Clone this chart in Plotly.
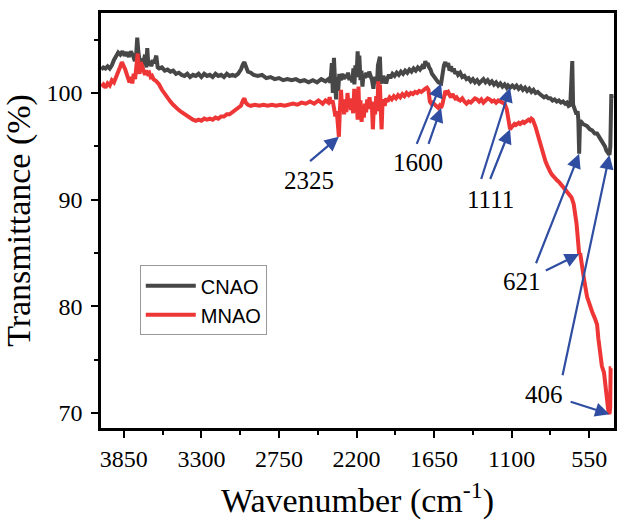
import plotly.graph_objects as go

# FTIR spectra: (wavenumber cm^-1, transmittance %)
CNAO_POINTS = [
    (4010, 102.2), (3995, 102.4), (3980, 102.3), (3965, 102.5), (3950, 102.3),
    (3935, 102.6), (3920, 103.1), (3905, 103.5), (3890, 103.8), (3875, 103.6),
    (3860, 103.9), (3845, 103.5), (3830, 103.8), (3815, 103.4), (3800, 103.9),
    (3785, 103.5), (3772, 103.0), (3762, 103.7), (3755, 105.2), (3748, 104.0),
    (3740, 102.6), (3730, 102.0), (3720, 103.0), (3710, 102.9), (3700, 103.6),
    (3690, 102.4), (3684, 104.2), (3676, 102.6), (3665, 103.0), (3655, 102.5),
    (3645, 103.1), (3635, 102.8), (3620, 103.5), (3610, 102.4), (3600, 102.3),
    (3580, 102.4), (3560, 102.1), (3540, 102.2), (3520, 102.0), (3500, 102.1),
    (3480, 101.8), (3460, 101.9), (3440, 101.7), (3420, 101.6), (3400, 101.8),
    (3380, 101.5), (3360, 101.7), (3340, 101.6), (3320, 101.8), (3300, 101.5),
    (3280, 101.8), (3260, 101.6), (3240, 101.7), (3220, 101.5), (3200, 101.8),
    (3180, 101.6), (3160, 101.7), (3140, 101.5), (3120, 101.8), (3100, 101.6),
    (3080, 101.7), (3060, 101.6), (3040, 101.8), (3020, 102.2), (3005, 102.7),
    (2995, 102.9), (2985, 102.5), (2970, 102.0), (2950, 101.9), (2930, 101.7),
    (2900, 101.6), (2870, 101.7), (2840, 101.4), (2810, 101.5), (2780, 101.3),
    (2750, 101.4), (2720, 101.2), (2690, 101.3), (2660, 101.2), (2630, 101.3),
    (2600, 101.1), (2570, 101.2), (2540, 101.0), (2510, 101.2), (2480, 101.0),
    (2450, 101.3), (2420, 101.1), (2400, 101.3), (2385, 101.0), (2375, 102.8),
    (2368, 100.0), (2360, 103.3), (2352, 101.0), (2345, 99.4), (2338, 101.5),
    (2330, 100.2), (2322, 101.8), (2312, 101.2), (2300, 101.8), (2290, 101.3),
    (2280, 101.7), (2270, 101.4), (2260, 101.9), (2250, 101.2), (2240, 101.6),
    (2230, 101.0), (2222, 102.3), (2215, 100.8), (2208, 102.6), (2200, 101.5),
    (2192, 103.9), (2186, 102.0), (2180, 103.5), (2172, 101.2), (2165, 102.1),
    (2158, 100.6), (2150, 101.8), (2140, 101.4), (2130, 101.9), (2120, 101.5),
    (2110, 102.0), (2100, 101.7), (2090, 101.2), (2080, 100.4), (2072, 101.5),
    (2065, 101.3), (2055, 100.9), (2048, 102.6), (2040, 102.9), (2034, 103.4),
    (2028, 101.2), (2020, 100.9), (2010, 101.6), (2000, 101.3), (1990, 100.9),
    (1980, 101.4), (1970, 101.7), (1960, 101.4), (1945, 101.8), (1930, 101.6),
    (1915, 101.9), (1900, 101.7), (1885, 102.0), (1870, 101.8), (1855, 102.1),
    (1840, 101.9), (1825, 102.2), (1810, 102.0), (1795, 102.3), (1780, 102.1),
    (1765, 102.4), (1750, 102.2), (1735, 102.5), (1722, 102.3), (1712, 103.0),
    (1705, 102.6), (1695, 102.8), (1685, 102.4), (1675, 102.2), (1665, 101.8),
    (1655, 101.6), (1645, 101.4), (1635, 101.3), (1620, 101.0), (1600, 100.9),
    (1590, 101.8), (1580, 102.6), (1570, 102.9), (1560, 102.5), (1550, 102.8),
    (1540, 102.1), (1530, 102.5), (1520, 102.0), (1510, 102.3), (1500, 101.8),
    (1490, 102.0), (1480, 101.7), (1465, 101.9), (1450, 101.5), (1435, 101.6),
    (1420, 101.3), (1405, 101.4), (1390, 101.1), (1375, 101.3), (1360, 101.0),
    (1345, 101.2), (1330, 100.9), (1315, 101.1), (1300, 101.3), (1285, 101.0),
    (1270, 101.2), (1255, 100.9), (1240, 101.1), (1225, 100.8), (1210, 101.0),
    (1195, 100.7), (1180, 100.9), (1165, 100.6), (1150, 100.8), (1135, 100.5),
    (1125, 100.7), (1111, 100.5), (1095, 100.7), (1080, 100.5), (1065, 100.7),
    (1050, 100.4), (1035, 100.6), (1020, 100.3), (1005, 100.5), (990, 100.2),
    (975, 100.4), (960, 100.1), (945, 100.3), (930, 100.0), (915, 100.1),
    (900, 99.9), (885, 99.8), (870, 99.6), (855, 99.7), (840, 99.5),
    (825, 99.5), (810, 99.3), (795, 99.4), (780, 99.2), (765, 99.3),
    (750, 99.1), (735, 99.2), (720, 99.0), (708, 99.1), (696, 98.8),
    (684, 98.9), (676, 102.9), (670, 103.0), (664, 98.9), (656, 98.5),
    (648, 98.3), (640, 98.0), (632, 98.3), (627, 97.5), (621, 94.3),
    (615, 97.4), (605, 97.3), (595, 97.1), (580, 97.0), (565, 96.9),
    (545, 96.6), (529, 96.5), (510, 96.2), (494, 96.2), (475, 95.8),
    (459, 95.5), (445, 95.1), (438, 95.0), (428, 94.6), (418, 94.4),
    (410, 94.3), (406, 94.2), (400, 95.0), (397, 99.8), (393, 99.9),
    (390, 99.5),
]

MNAO_POINTS = [
    (4010, 100.6), (3995, 100.8), (3980, 100.5), (3965, 100.9), (3950, 100.7),
    (3935, 101.2), (3920, 101.0), (3905, 101.6), (3890, 102.0), (3878, 102.4),
    (3864, 102.9), (3852, 102.6), (3840, 102.2), (3830, 101.8), (3820, 101.4),
    (3810, 101.0), (3800, 101.5), (3790, 100.9), (3780, 101.8), (3770, 101.3),
    (3762, 102.4), (3752, 103.7), (3745, 102.3), (3738, 101.8), (3730, 102.9),
    (3720, 102.4), (3710, 102.0), (3700, 101.7), (3690, 102.1), (3680, 101.8),
    (3670, 101.9), (3660, 101.5), (3650, 101.6), (3640, 101.3), (3620, 101.1),
    (3600, 100.8), (3580, 100.3), (3560, 99.9), (3540, 99.5), (3520, 99.2),
    (3500, 98.9), (3480, 98.6), (3460, 98.4), (3440, 98.2), (3420, 98.0),
    (3400, 97.8), (3380, 97.6), (3360, 97.5), (3340, 97.4), (3320, 97.5),
    (3300, 97.4), (3280, 97.6), (3260, 97.5), (3240, 97.6), (3220, 97.5),
    (3200, 97.7), (3180, 97.6), (3160, 97.8), (3140, 97.8), (3120, 98.0),
    (3100, 98.0), (3080, 98.2), (3060, 98.3), (3040, 98.5), (3020, 98.8),
    (3005, 99.3), (2995, 99.5), (2985, 99.1), (2970, 98.9), (2950, 98.8),
    (2920, 98.9), (2890, 98.8), (2860, 98.9), (2830, 98.8), (2800, 98.9),
    (2770, 98.8), (2740, 98.9), (2710, 98.8), (2680, 98.9), (2650, 99.0),
    (2620, 98.9), (2590, 99.1), (2560, 99.0), (2530, 99.2), (2500, 99.0),
    (2470, 99.3), (2440, 99.0), (2420, 99.3), (2400, 99.1), (2390, 99.6),
    (2380, 99.0), (2370, 99.3), (2360, 98.6), (2350, 97.8), (2340, 98.3),
    (2332, 97.0), (2325, 95.9), (2318, 98.4), (2310, 100.3), (2302, 98.6),
    (2295, 99.1), (2288, 98.0), (2280, 99.4), (2272, 98.2), (2264, 100.0),
    (2256, 98.7), (2248, 99.5), (2240, 98.4), (2232, 99.2), (2224, 98.1),
    (2216, 100.4), (2208, 98.4), (2200, 99.6), (2192, 97.5), (2186, 100.6),
    (2180, 98.0), (2172, 99.3), (2164, 97.3), (2156, 98.8), (2148, 97.7),
    (2140, 99.0), (2132, 98.2), (2124, 99.4), (2116, 98.5), (2108, 99.6),
    (2100, 98.7), (2092, 99.2), (2084, 96.6), (2076, 98.9), (2068, 98.0),
    (2060, 99.7), (2052, 98.3), (2046, 101.1), (2040, 99.0), (2034, 100.8),
    (2028, 98.4), (2022, 96.6), (2016, 98.9), (2008, 99.4), (2000, 98.8),
    (1990, 99.5), (1980, 99.2), (1965, 99.6), (1950, 99.4), (1935, 99.7),
    (1920, 99.5), (1905, 99.8), (1890, 99.6), (1875, 99.9), (1860, 99.7),
    (1845, 100.0), (1830, 99.8), (1815, 100.0), (1800, 99.9), (1785, 100.1),
    (1770, 100.0), (1755, 100.2), (1740, 100.1), (1725, 100.3), (1712, 100.4),
    (1700, 100.5), (1690, 100.3), (1680, 99.2), (1670, 99.0), (1660, 99.1),
    (1650, 99.0), (1640, 98.9), (1630, 98.7), (1620, 98.6), (1610, 98.8),
    (1600, 98.6), (1590, 99.0), (1580, 99.6), (1570, 100.2), (1560, 100.0),
    (1550, 100.1), (1540, 99.8), (1530, 99.6), (1520, 99.9), (1510, 99.7),
    (1500, 99.5), (1490, 99.6), (1480, 99.4), (1465, 99.3), (1450, 99.5),
    (1435, 99.2), (1420, 99.0), (1405, 99.2), (1390, 99.1), (1375, 99.3),
    (1360, 99.5), (1345, 99.4), (1330, 99.2), (1315, 99.4), (1300, 99.1),
    (1285, 99.3), (1270, 99.5), (1255, 99.4), (1240, 99.2), (1225, 99.3),
    (1210, 99.1), (1195, 99.3), (1180, 99.2), (1165, 99.1), (1150, 99.0),
    (1135, 98.5), (1125, 97.6), (1111, 96.6), (1100, 96.8), (1090, 96.9),
    (1080, 97.1), (1070, 97.0), (1060, 97.1), (1050, 97.2), (1040, 97.1),
    (1030, 97.2), (1020, 97.3), (1010, 97.2), (1000, 97.3), (990, 97.4),
    (980, 97.5), (970, 97.4), (960, 97.6), (950, 97.5), (940, 97.2),
    (930, 96.8), (917, 96.2), (905, 95.6), (895, 95.1), (882, 94.6),
    (870, 94.1), (860, 93.6), (847, 93.2), (835, 92.8), (822, 92.5),
    (811, 92.3), (800, 92.1), (790, 91.9), (776, 91.8), (760, 91.6),
    (741, 91.3), (725, 91.0), (710, 90.8), (692, 90.5), (675, 90.2),
    (660, 89.6), (650, 88.8), (640, 87.8), (632, 86.6), (625, 85.4),
    (621, 84.9), (614, 85.0), (608, 84.3), (600, 83.6), (586, 82.5),
    (565, 80.9), (545, 80.0), (529, 79.5), (510, 78.9), (494, 78.3),
    (485, 77.0), (473, 75.3), (460, 74.4), (445, 73.8), (435, 72.6),
    (424, 71.1), (415, 70.3), (406, 69.9), (401, 70.5), (398, 74.2),
    (394, 74.2),
]

cnao_wn = [p[0] for p in CNAO_POINTS]
cnao_t = [p[1] for p in CNAO_POINTS]
mnao_wn = [p[0] for p in MNAO_POINTS]
mnao_t = [p[1] for p in MNAO_POINTS]

cnao_lookup = dict(CNAO_POINTS)
mnao_lookup = dict(MNAO_POINTS)

x_ticks = [3850, 3300, 2750, 2200, 1650, 1100, 550]
x_minor = [3575, 3025, 2475, 1925, 1375, 825]
y_ticks = [70, 80, 90, 100]
y_minor = [75, 85, 95, 105]

# Band labels: (label, text position, [(series lookup, arrow tail), ...])
BANDS = [
    ("2325", (2539, 91.8), [(mnao_lookup, (2540, 93.5))]),
    ("1600", (1763, 93.5), [(cnao_lookup, (1777, 95.1)), (mnao_lookup, (1693, 95.1))]),
    ("1111", (1249, 90.0), [(cnao_lookup, (1319, 91.8)), (mnao_lookup, (1256, 91.8))]),
    ("621", (1030, 82.3), [(cnao_lookup, (931, 83.9)), (mnao_lookup, (868, 83.3))]),
    ("406", (868, 71.7), [(cnao_lookup, (741, 73.4)), (mnao_lookup, (692, 71.1))]),
]

SERIF = "Liberation Serif, Times New Roman, serif"
SANS = "Liberation Sans, Arial, sans-serif"
ARROW_BLUE = "#2f4ea2"

fig = go.Figure()
fig.add_trace(go.Scatter(x=cnao_wn, y=cnao_t, mode="lines", name="CNAO",
                         line=dict(color="#474747", width=4)))
fig.add_trace(go.Scatter(x=mnao_wn, y=mnao_t, mode="lines", name="MNAO",
                         line=dict(color="#ee3636", width=4)))

annotations = []
for label, (tx, ty), arrows in BANDS:
    annotations.append(dict(x=tx, y=ty, xref="x", yref="y", text=label,
                            showarrow=False,
                            font=dict(family=SERIF, size=25, color="black")))
    wn = int(label)
    for lookup, (axv, ayv) in arrows:
        annotations.append(dict(x=wn, y=lookup[wn], xref="x", yref="y",
                                ax=axv, ay=ayv, axref="x", ayref="y",
                                text="", showarrow=True, arrowhead=2,
                                arrowsize=1.3, arrowwidth=2.2,
                                arrowcolor=ARROW_BLUE, standoff=0))

axis_common = dict(
    showline=True, linecolor="black", linewidth=2.5, mirror=True,
    ticks="outside", ticklen=7, tickwidth=2, tickcolor="black",
    showgrid=False, zeroline=False,
    tickfont=dict(family=SERIF, size=24, color="black"),
)

fig.update_layout(
    width=619, height=523,
    margin=dict(l=101, r=2, t=13, b=95),
    paper_bgcolor="white", plot_bgcolor="white",
    xaxis=dict(range=[4012, 374], tickvals=x_ticks,
               ticktext=[str(v) for v in x_ticks],
               minor=dict(tickvals=x_minor, ticks="outside", ticklen=4,
                          tickwidth=2, tickcolor="black"),
               title=dict(text="Wavenumber (cm<sup>-1</sup>)",
                          font=dict(family=SERIF, size=34, color="black"),
                          standoff=18),
               **axis_common),
    yaxis=dict(range=[68.6, 107.5], tickvals=y_ticks,
               minor=dict(tickvals=y_minor, ticks="outside", ticklen=4,
                          tickwidth=2, tickcolor="black"),
               title=dict(text="Transmittance (%)",
                          font=dict(family=SERIF, size=34, color="black"),
                          standoff=10),
               ticklabelstandoff=4,
               **axis_common),
    legend=dict(x=0.0756, y=0.392, xanchor="left", yanchor="top",
                bgcolor="white", bordercolor="#999999", borderwidth=1,
                font=dict(family=SANS, size=20, color="black"),
                itemwidth=50, tracegroupgap=0),
    annotations=annotations,
    showlegend=True,
)

fig.write_html("out.html")
